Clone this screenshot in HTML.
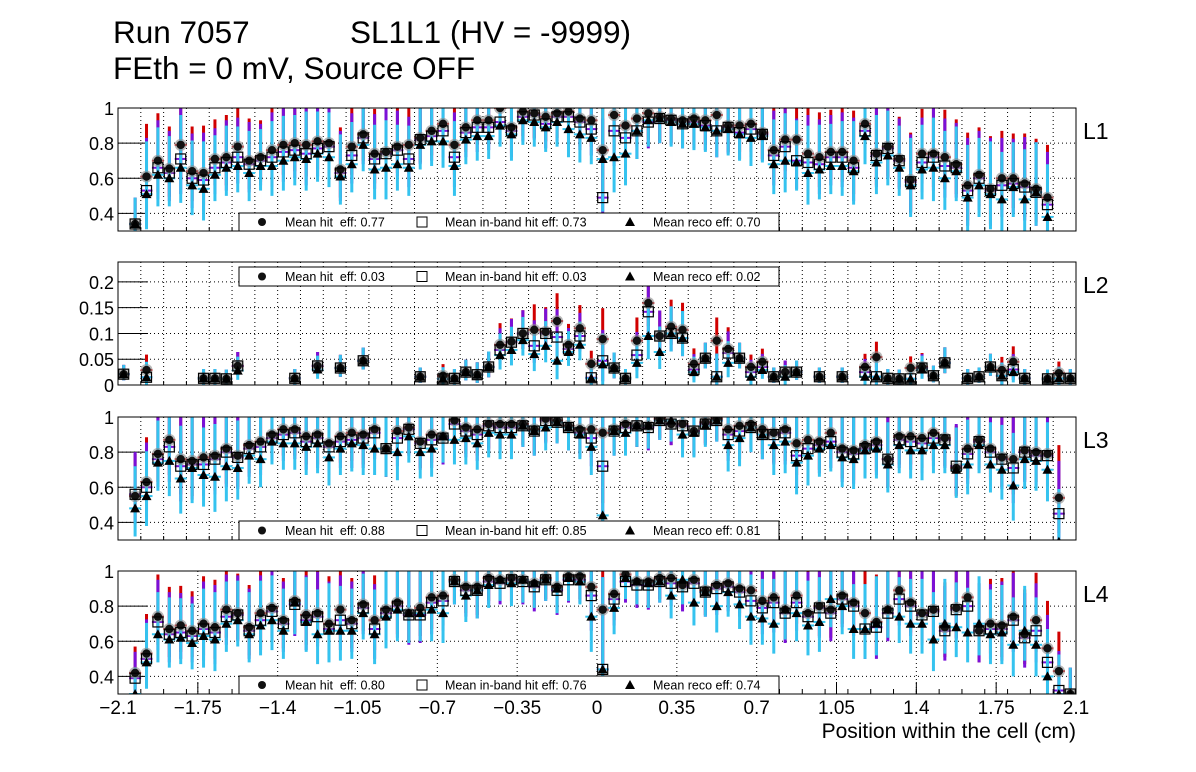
<!DOCTYPE html>
<html><head><meta charset="utf-8"><style>
html,body{margin:0;padding:0;background:#fff;}
svg{display:block;font-family:"Liberation Sans",sans-serif;}
</style></head><body>
<svg id="c" width="1196" height="772" viewBox="0 0 1196 772" xmlns="http://www.w3.org/2000/svg">
<text x="113" y="43" font-size="31.5">Run 7057</text>
<text x="350" y="43" font-size="31.5">SL1L1 (HV = -9999)</text>
<text x="113" y="79" font-size="31.5">FEth = 0 mV, Source OFF</text>
<text x="1076" y="738" font-size="21" text-anchor="end">Position within the cell (cm)</text>
</svg>
<script>
const N=null;
const xCenters=[];for(let i=0;i<84;i++)xCenters.push(+(-2.075+0.05*i).toFixed(3));
const xTickLabels=["\u22122.1","\u22121.75","\u22121.4","\u22121.05","\u22120.7","\u22120.35","0","0.35","0.7","1.05","1.4","1.75","2.1"];
const xTickValues=[-2.1,-1.75,-1.4,-1.05,-0.7,-0.35,0,0.35,0.7,1.05,1.4,1.75,2.1];
const layerNames=["L1","L2","L3","L4"];
const meanHit=["0.77","0.03","0.88","0.80"];
const meanBand=["0.73","0.03","0.85","0.76"];
const meanReco=["0.70","0.02","0.81","0.74"];

const hit1=[N,.34,.61,.70,.655,.79,.64,.63,.71,.72,.78,.70,.72,.76,.79,.80,.79,.81,.80,.65,.78,.85,.74,.75,.78,.79,.83,.87,.91,.79,.89,.93,.93,1.0,.89,.98,.97,.95,.97,.98,.94,.93,.76,.96,.90,.94,.97,.95,.94,.93,.94,.93,.96,.90,.90,.91,.86,.76,.82,.82,.74,.72,.75,.75,.70,.91,.74,.78,.71,.59,.74,.74,.72,.68,.56,.62,.54,.60,.60,.57,.54,.49,N,N];
const band1=[N,.34,.53,.66,.63,.71,.60,.59,.66,.69,.72,.68,.70,.72,.75,.76,.74,.77,.78,.63,.73,.83,.71,.74,.76,.71,.82,.84,.87,.72,.86,.89,.89,.92,.87,.95,.96,.91,.95,.95,.92,.88,.49,.87,.83,.87,.92,.94,.93,.91,.92,.90,.87,.89,.86,.88,.85,.73,.78,.70,.69,.68,.72,.72,.66,.87,.73,.77,.70,.58,.69,.72,.67,.66,.53,.60,.53,.56,.57,.55,.52,.45,N,N];
const reco1=[N,.34,.51,.62,.60,.66,.56,.54,.62,.66,.67,.63,.67,.67,.70,.72,.71,.74,.72,.61,.68,.79,.65,.66,.68,.66,.79,.81,.81,.67,.82,.84,.84,.90,.85,.93,.92,.89,.92,.88,.85,.83,.71,.72,.74,.87,.93,.94,.92,.91,.91,.89,.87,.88,.85,.83,.84,.68,.70,.69,.63,.65,.67,.67,.64,.84,.69,.73,.66,.56,.65,.66,.60,.64,.49,.56,.51,.48,.55,.48,.52,.38,N,N];
const err1=[0,.1,.2,.18,.16,.2,.17,.18,.15,.16,.15,.16,.14,.17,.17,.16,.18,.16,.17,.16,.16,.15,.17,.18,.15,.16,.14,.14,.15,.17,.14,.14,.13,.12,.15,.14,.14,.14,.14,.16,.16,.15,.3,.2,.18,.16,.15,.14,.14,.14,.15,.14,.15,.15,.15,.16,.15,.17,.18,.16,.18,.17,.16,.17,.19,.16,.18,.17,.16,.18,.17,.19,.18,.17,.2,.18,.2,.18,.17,.19,.19,.2,0,0];

const hit2=[.021,N,.029,N,N,N,N,.013,.013,.012,.037,N,N,N,N,.013,N,.037,N,.033,N,.047,N,N,N,N,.016,N,.018,.013,.025,.02,.035,.078,.084,.1,.107,.103,.124,.078,.11,.041,.089,.033,.013,.086,.159,.095,.113,.107,.041,.052,.086,.07,.052,.035,.045,.016,.025,.025,N,.016,N,.016,N,.035,.054,.013,.012,.033,.035,.018,.043,N,.013,.016,.035,.029,.045,.013,N,.012,.023,.013];
const band2=[.021,N,.015,N,N,N,N,.013,.013,.012,.037,N,N,N,N,.013,N,.037,N,.033,N,.047,N,N,N,N,.016,N,.012,.013,.025,.02,.035,.068,.083,.1,.076,.1,.093,.07,.095,.014,.047,.033,.013,.058,.142,.095,.1,.091,.03,.052,.016,.062,.052,.025,.035,.016,.025,.025,N,.016,N,.016,N,.025,.016,.013,.012,.012,.033,.018,.043,N,.013,.016,.035,.018,.03,.013,N,.012,.013,.013];
const reco2=[.021,N,.015,N,N,N,N,.013,.013,.012,.028,N,N,N,N,.013,N,.03,N,.033,N,.047,N,N,N,N,.016,N,.012,.013,.025,.02,.035,.058,.068,.087,.06,.076,.047,.064,.078,.013,.04,.033,.013,.043,.095,.064,.1,.091,.025,.052,.016,.043,.052,.016,.029,.016,.016,.025,N,.016,N,.016,N,.016,.016,.013,.012,.012,.03,.018,.043,N,.013,.016,.035,.018,.025,.013,N,.012,.013,.013];
const err2=[.012,0,.02,0,0,0,0,.012,.012,.012,.018,0,0,0,0,.012,0,.018,0,.017,0,.017,0,0,0,0,.012,0,.015,.012,.016,.016,.02,.028,.03,.03,.033,.032,.036,.027,.03,.017,.04,.02,.012,.03,.045,.033,.035,.035,.02,.02,.03,.028,.02,.016,.017,.012,.015,.015,0,.012,0,.012,0,.017,.02,.012,.012,.015,.018,.013,.02,0,.012,.012,.017,.017,.02,.012,0,.012,.015,.012];

const hit3=[N,.55,.63,.79,.87,.76,.75,.77,.78,.82,.78,.84,.86,.90,.93,.93,.89,.90,.85,.89,.91,.90,.93,.82,.92,.94,.86,.90,.89,.98,.94,.93,.96,.96,.96,.96,.93,.99,.98,.95,.93,.93,.91,.93,.96,.95,.95,.99,.96,.96,.92,.97,.99,.93,.95,.96,.93,.91,.93,.85,.87,.86,.91,.82,.81,.84,.86,.76,.89,.89,.88,.91,.88,.71,.82,.87,.82,.77,.76,.81,.80,.79,.54,N];
const band3=[N,.56,.60,.76,.83,.72,.73,.73,.76,.80,.77,.82,.83,.88,.90,.91,.86,.88,.83,.86,.87,.88,.91,.82,.88,.93,.85,.87,.88,.96,.92,.90,.95,.94,.94,.95,.92,.98,.97,.94,.91,.88,.72,.92,.94,.95,.94,.98,.96,.95,.92,.96,.98,.90,.92,.94,.90,.90,.91,.78,.82,.84,.86,.80,.79,.82,.84,.76,.87,.86,.85,.88,.87,.72,.79,.86,.80,.76,.71,.80,.78,.78,.45,N];
const reco3=[N,.48,.55,.74,.75,.65,.71,.67,.66,.72,.71,.78,.76,.86,.85,.85,.83,.85,.77,.82,.85,.84,.82,.82,.80,.89,.80,.82,.89,.87,.88,.85,.91,.90,.90,.95,.92,.94,.97,.94,.90,.83,.44,.92,.91,.95,.95,.98,.98,.90,.91,.95,.98,.84,.88,.94,.90,.84,.86,.74,.78,.82,.84,.77,.76,.81,.82,.73,.84,.81,.81,.84,.84,.70,.73,.84,.73,.70,.61,.76,.75,.70,.29,N];
const err3=[0,.16,.17,.16,.2,.2,.2,.18,.2,.2,.18,.16,.16,.13,.15,.15,.16,.17,.16,.15,.16,.17,.15,.16,.16,.15,.15,.16,.15,.14,.15,.15,.14,.14,.14,.12,.14,.13,.12,.13,.14,.16,.4,.14,.13,.12,.13,.11,.12,.13,.14,.12,.12,.15,.16,.14,.14,.17,.18,.18,.17,.16,.15,.17,.17,.16,.17,.16,.16,.16,.17,.16,.16,.16,.17,.16,.16,.17,.2,.17,.17,.18,.2,0];

const hit4=[N,.42,.53,.74,.67,.69,.66,.70,.68,.78,.76,.68,.76,.79,.72,.83,.75,.76,.70,.78,.72,.81,.72,.78,.82,.76,.79,.85,.86,.95,.91,.91,.96,.95,.96,.95,.93,.96,.91,.97,.97,.91,.78,.87,.98,.94,.94,.96,.96,.92,.95,.89,.92,.93,.90,.89,.83,.85,.78,.86,.76,.80,.78,.86,.82,.76,.71,.78,.89,.82,.76,.78,.68,.79,.85,.66,.70,.69,.74,.64,.72,.56,.43,.30];
const band4=[N,.39,.50,.71,.64,.65,.63,.67,.65,.74,.75,.66,.72,.77,.70,.81,.72,.74,.67,.72,.70,.79,.67,.76,.80,.75,.75,.82,.83,.94,.89,.89,.94,.93,.95,.94,.91,.95,.89,.95,.95,.86,.44,.84,.94,.92,.92,.94,.93,.91,.93,.88,.90,.91,.88,.83,.79,.82,.76,.82,.74,.79,.76,.84,.80,.67,.68,.76,.84,.80,.75,.77,.66,.78,.80,.66,.67,.67,.72,.62,.66,.48,.32,.30];
const reco4=[N,.30,.48,.64,.61,.62,.59,.63,.61,.70,.72,.64,.69,.72,.66,.82,.71,.64,.66,.66,.66,.76,.64,.74,.78,.76,.76,.78,.76,.94,.86,.89,.92,.95,.93,.95,.93,.95,.90,.96,.94,.74,.44,.79,.96,.94,.93,.94,.86,.95,.82,.88,.80,.88,.81,.74,.73,.70,.78,.76,.69,.71,.84,.80,.67,.67,.70,.78,.74,.70,.70,.61,.70,.68,.65,.70,.64,.65,.58,.66,.58,.40,.30,.30];
const err4=[0,.1,.15,.16,.16,.15,.15,.18,.18,.16,.15,.16,.17,.17,.16,.18,.17,.17,.18,.17,.16,.15,.17,.18,.18,.17,.16,.18,.17,.13,.15,.16,.13,.12,.13,.13,.14,.12,.14,.13,.13,.2,.35,.15,.12,.13,.14,.12,.13,.14,.13,.14,.15,.14,.14,.16,.15,.17,.17,.16,.17,.17,.16,.16,.17,.17,.18,.16,.15,.17,.17,.18,.17,.17,.17,.18,.17,.18,.18,.17,.18,.18,.15,.1];

const panels=[
 {top:108,bot:231,ymin:0.3,ymax:1.0,yt:[0.4,0.6,0.8,1],yl:["0.4","0.6","0.8","1"],hit:hit1,band:band1,reco:reco1,err:err1,legTop:213,gridStep:0.1},
 {top:262,bot:385,ymin:0,ymax:0.2386,yt:[0,0.05,0.1,0.15,0.2],yl:["0","0.05","0.1","0.15","0.2"],hit:hit2,band:band2,reco:reco2,err:err2,legTop:267,gridStep:0.1},
 {top:417,bot:540,ymin:0.3,ymax:1.0,yt:[0.4,0.6,0.8,1],yl:["0.4","0.6","0.8","1"],hit:hit3,band:band3,reco:reco3,err:err3,legTop:521,gridStep:0.1},
 {top:571,bot:694,ymin:0.3,ymax:1.0,yt:[0.4,0.6,0.8,1],yl:["0.4","0.6","0.8","1"],hit:hit4,band:band4,reco:reco4,err:err4,legTop:676,gridStep:0.35}
];
const X0=118,X1=1076;
function xs(v){return X0+(v+2.1)/4.2*(X1-X0);}
const svg=document.getElementById('c');
const NS="http://www.w3.org/2000/svg";
function mk(tag,attrs,parent){const e=document.createElementNS(NS,tag);for(const k in attrs)e.setAttribute(k,attrs[k]);(parent||svg).appendChild(e);return e;}

panels.forEach((p,pi)=>{
 const g=mk('g',{});
 
 
 const ys=v=>p.bot-(v-p.ymin)/(p.ymax-p.ymin)*(p.bot-p.top);
 const clipId='clip'+pi;
 const cp=mk('clipPath',{id:clipId},g);mk('rect',{x:X0,y:p.top,width:X1-X0,height:p.bot-p.top},cp);
 const step=p.gridStep;
 for(let k=0;;k++){const v=(step===0.1?-2.0:-2.1)+k*step; if(v>2.1001)break; const x=xs(v);
  mk('line',{x1:x,x2:x,y1:p.bot,y2:p.bot-(step===0.1?4:12),stroke:'#000','stroke-width':1},g);
  if(x<=X0+1||x>=X1-1)continue;
  const l=mk('line',{x1:x,x2:x,y1:p.top,y2:p.bot,stroke:'#000','stroke-width':1,'stroke-dasharray':'1,3'},g);
  }
 if(step!==0.1){for(let k=0;k<=42;k++){const x=xs(-2.1+k*0.1);mk('line',{x1:x,x2:x,y1:p.bot,y2:p.bot-5,stroke:'#000','stroke-width':1},g);}}
 p.yt.forEach((v,k)=>{const y=ys(v);
  if(y>p.top+1&&y<p.bot-1){const l=mk('line',{x1:X0,x2:X1,y1:y,y2:y,stroke:'#000','stroke-width':1,'stroke-dasharray':'1,3'},g);
   }
  const t=mk('line',{x1:X0,x2:X0+30,y1:y,y2:y,stroke:'#000','stroke-width':1},g);
  
  const tx=mk('text',{x:114,y:y+7,'font-size':18,'text-anchor':'end'},g);tx.textContent=p.yl[k];
  
 });
 const dg=mk('g',{'clip-path':'url(#'+clipId+')'},g);
 const n=xCenters.length;
 const bars=[[p.hit,'#d00000'],[p.band,'#7a10d8'],[p.reco,'#35c3ef']];
 bars.forEach(([arr,col])=>{
  for(let i=0;i<n;i++){if(arr[i]==null)continue;const x=xs(xCenters[i]);const e=p.err[i];
   const y=ys(arr[i]);
   const b=mk('line',{x1:x,x2:x,y1:ys(arr[i]-e),y2:ys(arr[i]+e*1.5),stroke:col,'stroke-width':3},dg);
   
   mk('line',{x1:x-6,x2:x+6,y1:y,y2:y,stroke:col,'stroke-width':2},dg);
  }});
 for(let i=0;i<n;i++){const x=xs(xCenters[i]);
  if(p.hit[i]!=null){const y=ys(p.hit[i]);
   mk('circle',{cx:x,cy:y,r:6,fill:'#888','fill-opacity':0.6},dg);
   const c=mk('circle',{cx:x,cy:y,r:4.2,fill:'#111'},dg);
   }
  if(p.band[i]!=null){const y=ys(p.band[i]);
   const r=mk('rect',{x:x-5,y:y-5,width:10,height:10,fill:'none',stroke:'#000','stroke-width':1.2},dg);
   }
  if(p.reco[i]!=null){const y=ys(p.reco[i]);
   const t=mk('polygon',{points:`${x},${y-5} ${x-5},${y+4} ${x+5},${y+4}`,fill:'#000'},dg);
   }
 }
 const fr=mk('rect',{x:X0,y:p.top,width:X1-X0,height:p.bot-p.top,fill:'none',stroke:'#000','stroke-width':1},g);
 
 const lab=mk('text',{x:1083,y:p.top+31,'font-size':23},g);lab.textContent=layerNames[pi];
 
 const lg=mk('g',{},g);
 
 const lt=p.legTop, lb=Math.min(lt+19,p.bot);
 mk('rect',{x:239,y:lt,width:540,height:lb-lt,fill:'#fff',stroke:'#000','stroke-width':1},lg);
 const cy=(lt+lb)/2;
 mk('circle',{cx:262,cy:cy,r:4,fill:'#111'},lg);
 let t=mk('text',{x:285,y:cy+4.5,'font-size':12.5},lg);t.textContent='Mean hit\u00a0 eff: '+meanHit[pi];
 
 mk('rect',{x:417,y:cy-5,width:10,height:10,fill:'none',stroke:'#000','stroke-width':1},lg);
 t=mk('text',{x:445,y:cy+4.5,'font-size':12.5},lg);t.textContent='Mean in-band hit eff: '+meanBand[pi];
 
 mk('polygon',{points:`630,${cy-5} 625,${cy+4} 635,${cy+4}`,fill:'#000'},lg);
 t=mk('text',{x:653,y:cy+4.5,'font-size':12.5},lg);t.textContent='Mean reco eff: '+meanReco[pi];
 
});
xTickValues.forEach((v,k)=>{const t=mk('text',{x:xs(v),y:714,'font-size':19,'text-anchor':'middle'});
 t.textContent=xTickLabels[k];
 });
</script>
</body></html>
